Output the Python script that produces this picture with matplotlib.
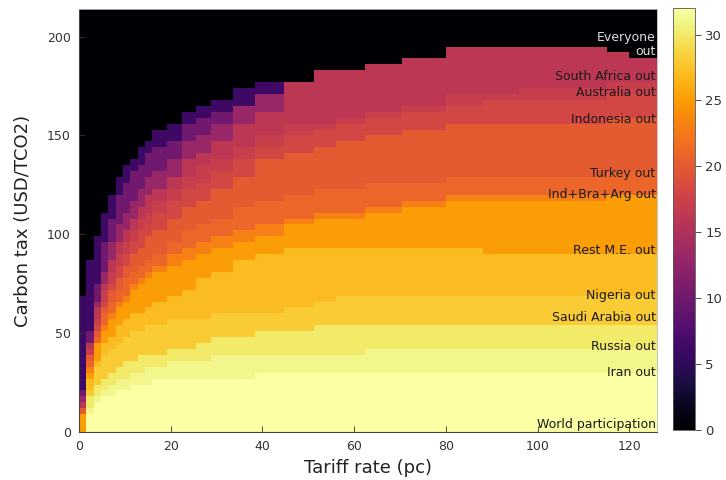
import numpy as np
import matplotlib
matplotlib.use('Agg')
import matplotlib.pyplot as plt

# tariff (pc) where each step of the boundaries starts
TARIFF_STEPS = [0, 1.6, 3.2, 4.8, 6.4, 8, 9.6, 11.2, 12.8, 14.4, 16, 19.2, 22.4, 25.6, 28.8,
                33.6, 38.4, 44.8, 51.2, 56, 62.4, 70.4, 80, 88, 96, 115.2, 118.4, 120]

# highest carbon tax (USD/tCO2) still giving each participation level, per tariff step
top_06 = [70, 88, 100, 110, 120, 128, 134, 139, 144, 148, 152, 156, 162, 166, 169,
          175, 178, 178, 182, 184.5, 187.5, 190.5, 193.8, 193.8, 196.5, 193.5, 190.9, 188.4]
top_10 = [20, 50, 75, 95, 109, 119, 126, 131, 136, 140, 144, 148, 155, 159, 163,
          164, 172, 176, 182, 184.5, 187.5, 190.5, 193.8, 193.8, 196.5, 193.5, 190.9, 188.4]
top_13 = [17, 46, 66, 82, 95, 105, 112, 118, 124, 129, 133, 139, 146, 151, 155,
          164, 170, 176, 182, 184.5, 187.5, 190.5, 193.8, 193.8, 196.5, 193.5, 190.9, 188.4]
top_16 = [15, 44, 62, 76, 87, 95, 102, 108, 114, 119, 123, 130, 137, 142, 147,
          155, 163, 176, 182, 184.5, 187.5, 190.5, 193.8, 193.8, 196.5, 193.5, 190.9, 188.4]
top_17 = [13, 42, 58, 71, 81, 89, 96, 102, 107, 112, 116, 123, 129, 134, 139,
          145, 151, 155, 157, 159, 162, 166, 170, 172, 175, 178, 178, 178]
top_18 = [12, 40, 55, 67, 76, 84, 90, 96, 101, 106, 110, 116, 122, 127, 132,
          138, 144, 149, 152, 155, 158, 162, 165, 167, 169, 170, 170, 170]
top_20 = [11, 38, 52, 63, 71, 78, 84, 89, 94, 98, 102, 108, 113, 118, 123,
          130, 137, 141, 144.5, 146, 150, 152, 155, 156, 157.5, 159, 159, 159]
top_21 = [10, 35, 49, 59, 66, 72, 77, 81, 85, 88, 91, 97, 101, 105, 109,
          113, 117, 120.9, 124.3, 124.3, 126.8, 126.8, 128, 130.2, 130.5, 131, 131, 131]
top_23 = [9.5, 32, 46, 55, 61, 66, 70, 74, 77, 80, 83, 89, 92, 95, 98,
          102, 105, 108, 111, 112, 114.5, 117, 121, 121, 121, 119.5, 119.5, 119.5]
top_25 = [9, 30, 44, 52, 58, 63, 67, 71, 74, 77, 80, 85, 88, 90, 92,
          96, 99, 104, 107, 109, 111.5, 115, 117.8, 118, 118.5, 119.5, 119.5, 119.5]
top_27 = [0, 26, 37, 44, 49, 53, 56, 59, 61, 63, 65, 68, 72, 77, 82,
          87, 91, 93, 94, 94, 94, 94, 94, 90.6, 90.6, 90.6, 90.6, 90.6]
top_28 = [0, 22, 32, 38, 42, 45, 47.5, 50, 52, 54, 55, 56.5, 57.5, 58, 59,
          60.5, 61.5, 62.7, 66.8, 68.5, 69, 69, 69, 69, 69, 69, 69, 69]
top_30 = [0, 17, 24.5, 28, 31, 33, 35, 37, 38.5, 39.5, 40.5, 42, 43.5, 45, 47,
          49, 50.6, 51, 52.6, 54.7, 54.7, 54.7, 54.7, 54.7, 54.7, 54.7, 54.7, 54.7]
top_31 = [0, 13, 19.5, 22.5, 24.5, 26, 27.5, 29.5, 31, 32.5, 33.5, 35, 36.5, 37.5, 38.5,
          40, 40, 40.5, 40.5, 40.5, 42, 42, 42, 42, 42, 42, 42, 42]
top_32 = [0, 9, 14, 17.5, 19.5, 21, 22.5, 24, 24.8, 25.5, 26, 26.5, 27, 27.3, 28,
          28.5, 29.5, 30.4, 30.5, 30.5, 30.5, 30.5, 30.5, 30.5, 30.5, 30.5, 30.5, 30.5]

bands = [(6, top_06), (10, top_10), (13, top_13), (16, top_16), (17, top_17),
         (18, top_18), (20, top_20), (21, top_21), (23, top_23), (25, top_25),
         (27, top_27), (28, top_28), (30, top_30), (31, top_31), (32, top_32)]

LABELS = ['World participation', 'Iran out', 'Russia out', 'Saudi Arabia out',
          'Nigeria out', 'Rest M.E. out', 'Ind+Bra+Arg out', 'Turkey out',
          'Indonesia out', 'Australia out', 'South Africa out', 'Everyone\nout']
LABEL_TAX = [4, 30, 43, 58, 69, 92, 120, 131, 158, 171.5, 180, 196]

# cell grid of the heatmap
dx, dy = 1.6, 3.0
x_edges = np.arange(0, 126 + dx, dx)
y_edges = np.arange(0, 216 + dy, dy)
y_mid = (y_edges[:-1] + y_edges[1:]) / 2
col = np.searchsorted(TARIFF_STEPS, x_edges[:-1] + 1e-6, side='right') - 1

grid = np.zeros((len(y_mid), len(col)))
for lev, tops in bands:
    t = np.array(tops)[col]
    grid[y_mid[:, None] < t[None, :]] = lev

fig = plt.figure(figsize=(7.26, 4.8), dpi=100)
ax = fig.add_axes([0.1088, 0.1, 0.796, 0.8813])
mesh = ax.pcolormesh(x_edges, y_edges, grid, cmap='inferno', vmin=0, vmax=32, shading='flat')
ax.set_xlim(0, 126)
ax.set_ylim(0, 214)
ax.set_xticks([0, 20, 40, 60, 80, 100, 120])
ax.set_yticks([0, 50, 100, 150, 200])
ax.tick_params(direction='in', length=4, width=0.6, labelsize=9, colors='#333333', pad=6)
for s in ['top', 'right']:
    ax.spines[s].set_color('#bbbbbb')
    ax.spines[s].set_linewidth(0.6)
for s in ['left', 'bottom']:
    ax.spines[s].set_color('#444444')
    ax.spines[s].set_linewidth(0.8)
ax.set_xlabel('Tariff rate (pc)', fontsize=13, color='#222222', labelpad=4)
ax.set_ylabel('Carbon tax (USD/TCO2)', fontsize=13, color='#222222', labelpad=11)

for txt, v in zip(LABELS, LABEL_TAX):
    c = '#dddddd' if txt.startswith('Everyone') else '#1a1a1a'
    ax.text(125.7, v, txt, ha='right', va='center', fontsize=9, color=c, linespacing=1.05)

cax = fig.add_axes([0.927, 0.104, 0.0303, 0.879])
cb = fig.colorbar(mesh, cax=cax)
cb.set_ticks([0, 5, 10, 15, 20, 25, 30])
cb.ax.tick_params(labelsize=9.5, colors='#333333', length=4, width=0.6)
cb.outline.set_linewidth(0.6)
cb.outline.set_edgecolor('#555555')

fig.savefig('out.png', dpi=100)
